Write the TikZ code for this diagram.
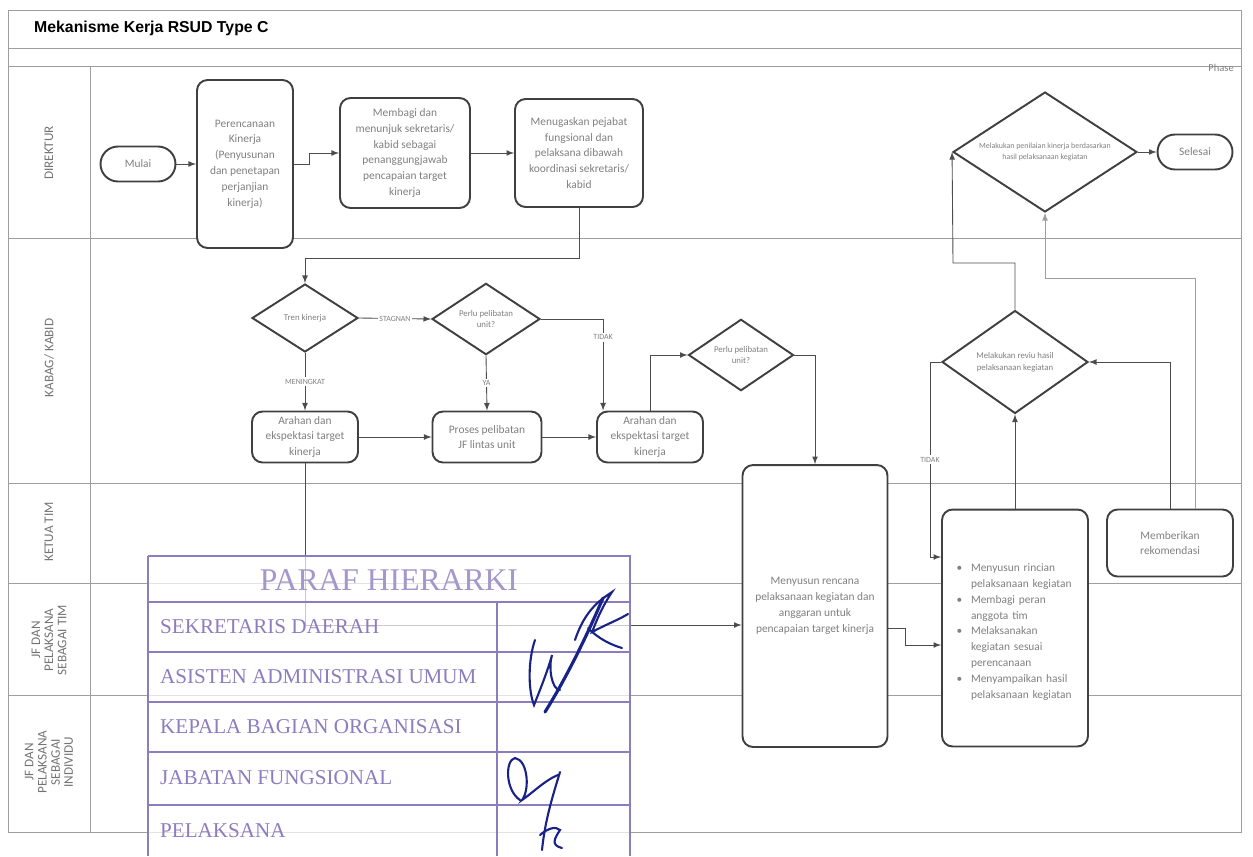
\documentclass[tikz,border=0pt]{standalone}
\usepackage{fontspec}
\usepackage{enumitem}
\setmainfont{Carlito}
\newfontfamily\titlefont{Liberation Sans}
\newfontfamily\stampfont{Liberation Serif}
\usetikzlibrary{arrows}
\usetikzlibrary{shapes.geometric}
\definecolor{txtgray}{gray}{0.5}
\definecolor{linegray}{gray}{0.62}
\definecolor{stampc}{RGB}{140,125,190}
\definecolor{ink}{RGB}{25,35,135}

\begin{document}
\begin{tikzpicture}[x=0.02cm, y=-0.02cm,
    proc/.style={draw=black!75, line width=1.1pt, rounded corners=6pt, fill=white,
      text=txtgray, font=\fontsize{6.5}{9}\selectfont, align=center, inner sep=2pt},
    term/.style={proc, rounded corners=0.35cm, minimum width=1.5cm, minimum height=0.7cm},
    dec/.style={diamond, draw=black!75, line width=1.1pt, fill=white, text=txtgray,
      font=\fontsize{5}{6.5}\selectfont, align=center, inner sep=0pt},
    flow/.style={draw=black!70, line width=0.5pt, -latex},
    lane/.style={draw=linegray, line width=0.5pt},
    lanelbl/.style={text=black!55, font=\fontsize{7.5}{7.5}\selectfont, align=center, rotate=90},
    lbl/.style={text=txtgray, font=\fontsize{4.5}{5}\selectfont, fill=white, inner sep=1pt},
    stamptxt/.style={text=stampc, font=\stampfont\fontsize{12}{13}\selectfont, anchor=west},
    stampline/.style={draw=stampc, line width=0.9pt},
    sign/.style={draw=ink, line width=1.2pt, line cap=round}]
    \useasboundingbox (0,0) rectangle (1253,856);

    \draw [lane] (8,10) rectangle (1241,832);
    \draw [lane] (8,48) -- (1241,48);
    \draw [lane] (8,66) -- (1241,66);
    \draw [lane] (90,66) -- (90,832);
    \draw [lane] (8,238) -- (1241,238);
    \draw [lane] (8,483) -- (1241,483);
    \draw [lane] (8,583) -- (1241,583);
    \draw [lane] (8,695) -- (1241,695);

    \node [anchor=west, font=\titlefont\bfseries\fontsize{9}{10}\selectfont] (title) at (28,28) {Mekanisme Kerja RSUD Type C};
    \node [anchor=east, text=txtgray, font=\fontsize{6}{7}\selectfont] (phase) at (1240,68) {Phase};

    \node [lanelbl] (lDir) at (49,153) {DIREKTUR};
    \node [lanelbl] (lKab) at (49,358) {KABAG/ KABID};
    \node [lanelbl] (lKet) at (49,532) {KETUA TIM};
    \node [lanelbl] (lTim) at (49,640) {JF DAN\\PELAKSANA\\SEBAGAI TIM};
    \node [lanelbl] (lInd) at (49,762) {JF DAN\\PELAKSANA\\SEBAGAI\\INDIVIDU};

    \node [term] (mulai) at (138,164) {Mulai};
    \node [proc, minimum width=1.92cm, minimum height=3.36cm] (rencana) at (245,164) {Perencanaan\\Kinerja\\(Penyusunan\\dan penetapan\\perjanjian\\kinerja)};
    \node [proc, minimum width=2.6cm, minimum height=2.2cm] (membagi) at (405,153) {Membagi dan\\menunjuk sekretaris/\\kabid sebagai\\penanggungjawab\\pencapaian target\\kinerja};
    \node [proc, minimum width=2.56cm, minimum height=2.16cm] (tugas) at (579,153) {Menugaskan pejabat\\fungsional dan\\pelaksana dibawah\\koordinasi sekretaris/\\kabid};
    \node [dec, aspect=1.53, minimum width=3.68cm, minimum height=2.4cm, font=\fontsize{4.5}{6}\selectfont] (nilai) at (1045,152) {Melakukan penilaian kinerja berdasarkan\\hasil pelaksanaan kegiatan};
    \node [term] (selesai) at (1195,152) {Selesai};

    \node [dec, minimum width=2.12cm, minimum height=1.36cm] (tren) at (305,318) {Tren kinerja};
    \node [dec, minimum width=2.16cm, minimum height=1.36cm] (libat) at (486,319) {Perlu pelibatan\\unit?};
    \node [proc, minimum width=2.12cm, minimum height=1.02cm] (arahanA) at (305,437) {Arahan dan\\ekspektasi target\\kinerja};
    \node [proc, minimum width=2.18cm, minimum height=1.02cm] (proses) at (487,437) {Proses pelibatan\\JF lintas unit};
    \node [proc, minimum width=2.12cm, minimum height=1.02cm] (arahanB) at (650,437) {Arahan dan\\ekspektasi target\\kinerja};
    \node [dec, minimum width=2.1cm, minimum height=1.4cm] (libatB) at (741,355) {Perlu pelibatan\\unit?};
    \node [dec, aspect=1.42, minimum width=2.92cm, minimum height=2.06cm] (reviu) at (1015,362) {Melakukan reviu hasil\\pelaksanaan kegiatan};

    \node [proc, minimum width=2.9cm, minimum height=5.64cm] (susun) at (815,606) {Menyusun rencana\\pelaksanaan kegiatan dan\\anggaran untuk\\pencapaian target kinerja};
    \node [proc, minimum width=2.92cm, minimum height=4.74cm, text width=2.6cm, align=left] (laksana) at (1015,628) {%
      \begin{itemize}[leftmargin=0.42cm, label=\textbullet, itemsep=0pt, topsep=0pt, parsep=0pt, partopsep=0pt]
        \item Menyusun rincian\\pelaksanaan kegiatan
        \item Membagi peran\\anggota tim
        \item Melaksanakan\\kegiatan sesuai\\perencanaan
        \item Menyampaikan hasil\\pelaksanaan kegiatan
      \end{itemize}};
    \node [proc, minimum width=2.52cm, minimum height=1.34cm] (rekom) at (1170,543) {Memberikan\\rekomendasi};

    \coordinate (jG) at (579,258);
    \coordinate (jA) at (953,263);
    \coordinate (jB) at (1045,278);
    \coordinate (jC) at (930,557);
    \coordinate (jD) at (905,628);
    \coordinate (jE) at (905,645);
    \coordinate (jF) at (305,625);

    \draw [flow] (mulai) -- (rencana);
    \draw [flow] (rencana.east) -- ++(15,0) |- (membagi.west);
    \draw [flow] (membagi) -- (tugas);
    \draw [flow] (tugas.south) -- (jG) -| (tren.north);
    \draw [flow] (tren.east) -- node [lbl] {STAGNAN} (libat.west);
    \draw [flow] (tren.south) -- node [lbl] {MENINGKAT} (arahanA.north);
    \draw [flow] (libat.south) -- node [lbl] {YA} (proses.north);
    \draw [flow] (libat.east) -| node [lbl, pos=0.6] {TIDAK} ([xshift=4pt]arahanB.north west);
    \draw [flow] (arahanA) -- (proses);
    \draw [flow] (proses) -- (arahanB);
    \draw [flow] (arahanB.north) |- (libatB.west);
    \draw [flow] (libatB.east) -| (susun.north);
    \draw [flow] (arahanA.south) -- (jF) -- (jF -| susun.west);
    \draw [flow] (susun.east |- jD) -- (jD) |- (jE -| laksana.west);
    \draw [flow] (laksana.north) -- (reviu.south);
    \draw [flow] (reviu.west) -| node [lbl, pos=0.75] {TIDAK} (jC) -- (jC -| laksana.west);
    \draw [flow] (rekom.north) |- (reviu.east);
    \draw [flow] (reviu.north) |- (jA) -- (nilai.west);
    \draw [flow, draw=linegray] ([xshift=0.5cm]rekom.north) |- (jB) -- (nilai.south);
    \draw [flow] (nilai) -- (selesai);

    \fill [white, fill opacity=0.7] (148,556) rectangle (630,856);
    \draw [stampline] (148,556) -- (630,556) -- (630,856);
    \draw [stampline] (148,556) -- (148,856);
    \draw [stampline] (148,602) -- (630,602);
    \draw [stampline] (148,652) -- (630,652);
    \draw [stampline] (148,702) -- (630,702);
    \draw [stampline] (148,752) -- (630,752);
    \draw [stampline] (148,805) -- (630,805);
    \draw [stampline] (497,602) -- (497,856);
    \node [text=stampc!80, font=\stampfont\fontsize{18}{19}\selectfont] (paraf) at (389,580) {PARAF HIERARKI};
    \node [stamptxt] (sekda) at (154,627) {SEKRETARIS DAERAH};
    \node [stamptxt] (asisten) at (154,677) {ASISTEN ADMINISTRASI UMUM};
    \node [stamptxt] (kabag) at (154,727) {KEPALA BAGIAN ORGANISASI};
    \node [stamptxt] (jafung) at (154,778) {JABATAN FUNGSIONAL};
    \node [stamptxt] (pelaksana) at (154,831) {PELAKSANA};

    \draw [sign] (535,640) .. controls (528,660) and (528,690) .. (534,705) .. controls (540,690) and (548,670) .. (552,655) .. controls (548,668) and (552,690) .. (560,690);
    \draw [sign, line width=1.8pt] (545,712) .. controls (565,680) and (585,640) .. (603,598);
    \draw [sign] (575,640) .. controls (585,610) and (600,600) .. (612,592) .. controls (600,610) and (595,625) .. (592,632) .. controls (605,625) and (618,620) .. (628,614);
    \draw [sign] (588,628) .. controls (600,640) and (612,645) .. (622,648);
    \draw [sign] (520,800) .. controls (505,790) and (505,760) .. (515,758) .. controls (528,760) and (530,790) .. (522,800) .. controls (530,795) and (545,780) .. (558,775);
    \draw [sign] (560,772) .. controls (553,795) and (545,820) .. (542,850);
    \draw [sign] (540,835) .. controls (548,828) and (556,826) .. (560,830) .. controls (555,838) and (550,845) .. (562,848);
\end{tikzpicture}
\end{document}
